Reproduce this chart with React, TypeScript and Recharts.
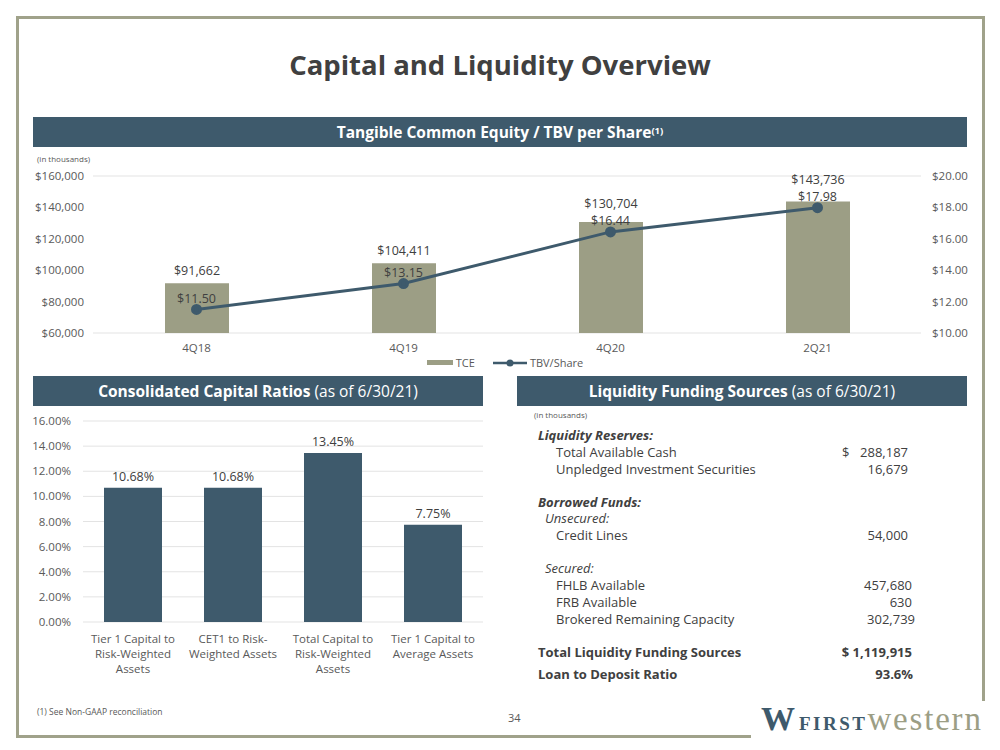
import React from 'react';
import {
  ComposedChart, BarChart, Bar, Line, XAxis, YAxis, CartesianGrid, Legend, LabelList,
} from 'recharts';

// top chart
const quarters = ['4Q18', '4Q19', '4Q20', '2Q21'];
const tce = [91662, 104411, 130704, 143736];
const tbvShare = [11.5, 13.15, 16.44, 17.98];
const tceTicks = [60000, 80000, 100000, 120000, 140000, 160000];
const tbvTicks = [10, 12, 14, 16, 18, 20];

// capital ratios
const ratioNames = [
  ['Tier 1 Capital to', 'Risk-Weighted', 'Assets'],
  ['CET1 to Risk-', 'Weighted Assets'],
  ['Total Capital to', 'Risk-Weighted', 'Assets'],
  ['Tier 1 Capital to', 'Average Assets'],
];
const ratioValues = [10.68, 10.68, 13.45, 7.75];
const ratioTicks = [0, 2, 4, 6, 8, 10, 12, 14, 16];

// liquidity table
const reserveRows = [
  ['Total Available Cash', '288,187'],
  ['Unpledged Investment Securities', '16,679'],
];
const unsecuredRows = [['Credit Lines', '54,000']];
const securedRows = [
  ['FHLB Available', '457,680'],
  ['FRB Available', '630'],
  ['Brokered Remaining Capacity', '302,739'],
];

const NAVY = '#3e5a6c';
const OLIVE = '#9c9e85';
const TXT = '#404040';
const FONT = '"Open Sans", "Noto Sans", sans-serif';

const TCE_MIN = 60000, TCE_MAX = 160000, TBV_MIN = 10, TBV_MAX = 20;

const topData = quarters.map((q, i) => ({ q, tce: tce[i], tbv: tbvShare[i] }));
const ratioData = ratioNames.map((n, i) => ({ name: n.join('|'), value: ratioValues[i] }));

// TCE label sits above the bar, pushed up when the TBV label would collide with it
function TceLabel(props: any) {
  const { x, y, width, height, index } = props;
  const bottom = y + height;
  const plotH = height / ((tce[index] - TCE_MIN) / (TCE_MAX - TCE_MIN));
  const pointY = bottom - ((tbvShare[index] - TBV_MIN) / (TBV_MAX - TBV_MIN)) * plotH;
  const cy = Math.min(y - 13, pointY - 28);
  return (
    <text x={x + width / 2} y={cy + 4.5} textAnchor="middle" fill={TXT} fontSize={12.5} fontFamily={FONT}>
      {'$' + tce[index].toLocaleString('en-US')}
    </text>
  );
}

function TopLegend(props: any) {
  const items = [...(props.payload || [])].sort((a: any, b: any) => (a.type === 'line' ? 1 : 0) - (b.type === 'line' ? 1 : 0));
  return (
    <div style={{ display: 'flex', justifyContent: 'center', alignItems: 'center', gap: 18, fontSize: 11, color: '#595959', fontFamily: FONT, paddingLeft: 10 }}>
      {items.map((it: any) => (
        <span key={it.value} style={{ display: 'flex', alignItems: 'center', gap: 3 }}>
          {it.type === 'line' ? (
            <svg width={34} height={10}>
              <line x1={0} y1={5} x2={34} y2={5} stroke={NAVY} strokeWidth={2.5} />
              <circle cx={17} cy={5} r={3.5} fill={NAVY} />
            </svg>
          ) : (
            <span style={{ display: 'inline-block', width: 26, height: 5, background: OLIVE }} />
          )}
          {it.value}
        </span>
      ))}
    </div>
  );
}

function RatioTick(props: any) {
  const { x, y, payload } = props;
  const lines = String(payload.value).split('|');
  return (
    <text x={x} y={y} textAnchor="middle" fill="#595959" fontSize={11.5} fontFamily={FONT}>
      {lines.map((l, i) => (
        <tspan key={i} x={x} dy={i === 0 ? 13 : 15}>{l}</tspan>
      ))}
    </text>
  );
}

function Header({ left, top, width, bold, rest, sup }: any) {
  return (
    <div style={{
      position: 'absolute', left, top, width, height: 30, background: NAVY, color: '#fff',
      display: 'flex', alignItems: 'center', justifyContent: 'center', fontSize: 15.5, fontFamily: FONT,
    }}>
      <span style={{ fontWeight: 700 }}>{bold}</span>
      {rest && <span style={{ whiteSpace: 'pre' }}>{rest}</span>}
      {sup && <sup style={{ fontSize: 9.5, fontWeight: 700, position: 'relative', top: -2 }}>{sup}</sup>}
    </div>
  );
}

const rowStyle: React.CSSProperties = { position: 'absolute', fontSize: 13, color: TXT, fontFamily: FONT, whiteSpace: 'nowrap', lineHeight: '16px' };

function Row({ y, label, value, indent = 556, right = 908, dollar }: any) {
  return (
    <>
      <div style={{ ...rowStyle, left: indent, top: y }}>{label}</div>
      {dollar && <div style={{ ...rowStyle, left: 842, top: y }}>$</div>}
      <div style={{ ...rowStyle, left: right - 100, width: 100, textAlign: 'right', top: y }}>{value}</div>
    </>
  );
}

export default function App() {
  return (
    <div style={{ position: 'absolute', left: 0, top: 0, width: 1000, height: 750, background: '#fff', fontFamily: FONT, overflow: 'hidden' }}>
      {/* frame */}
      <div style={{ position: 'absolute', left: 16, top: 16, width: 3, height: 722, background: '#a0a28a' }} />
      <div style={{ position: 'absolute', left: 16, top: 16, width: 969, height: 3, background: '#a0a28a' }} />
      <div style={{ position: 'absolute', left: 982, top: 16, width: 3, height: 685, background: '#a0a28a' }} />
      <div style={{ position: 'absolute', left: 16, top: 735, width: 735, height: 3, background: '#a0a28a' }} />

      <div style={{ position: 'absolute', left: 0, width: 1000, top: 46, textAlign: 'center', fontSize: 27.5, fontWeight: 700, color: TXT }}>
        Capital and Liquidity Overview
      </div>

      <Header left={33} top={117} width={934} bold="Tangible Common Equity / TBV per Share" sup="(1)" />
      <div style={{ position: 'absolute', left: 37, top: 153, fontSize: 8, color: '#595959' }}>(in thousands)</div>

      <div style={{ position: 'absolute', left: 0, top: 160 }}>
        <ComposedChart width={1000} height={215} data={topData} margin={{ top: 16, right: 0, bottom: 0, left: 0 }}>
          <CartesianGrid vertical={false} stroke="#e3e3e3" />
          <XAxis dataKey="q" axisLine={false} tickLine={false} height={22} tickMargin={5}
            tick={{ fontSize: 11.5, fill: '#595959', fontFamily: FONT }} />
          <YAxis yAxisId="l" domain={[TCE_MIN, TCE_MAX]} ticks={tceTicks} width={93} axisLine={false} tickLine={false} tickMargin={3}
            tickFormatter={(v: number) => '$' + v.toLocaleString('en-US')}
            tick={{ fontSize: 11.5, fill: '#595959', fontFamily: FONT }} />
          <YAxis yAxisId="r" orientation="right" domain={[TBV_MIN, TBV_MAX]} ticks={tbvTicks} width={79} axisLine={false} tickLine={false} tickMargin={5}
            tickFormatter={(v: number) => '$' + v.toFixed(2)}
            tick={{ fontSize: 11.5, fill: '#595959', fontFamily: FONT }} />
          <Legend verticalAlign="bottom" height={20} content={<TopLegend />} />
          <Bar yAxisId="l" dataKey="tce" name="TCE" fill={OLIVE} barSize={64} isAnimationActive={false} legendType="rect">
            <LabelList dataKey="tce" content={<TceLabel />} />
          </Bar>
          <Line yAxisId="r" dataKey="tbv" name="TBV/Share" stroke={NAVY} strokeWidth={3} legendType="line"
            dot={{ r: 4, fill: NAVY, stroke: NAVY }} isAnimationActive={false}>
            <LabelList dataKey="tbv" position="top" offset={6.5} fill={TXT} fontSize={12.5} fontFamily={FONT}
              formatter={(v: any) => '$' + Number(v).toFixed(2)} />
          </Line>
        </ComposedChart>
      </div>

      <Header left={33} top={376} width={450} bold="Consolidated Capital Ratios" rest=" (as of 6/30/21)" />
      <div style={{ position: 'absolute', left: 0, top: 411 }}>
        <BarChart width={490} height={270} data={ratioData} margin={{ top: 10, right: 7, bottom: 0, left: 0 }}>
          <CartesianGrid vertical={false} stroke="#e3e3e3" />
          <XAxis dataKey="name" axisLine={false} tickLine={false} height={59} interval={0} tick={<RatioTick />} />
          <YAxis domain={[0, 16]} ticks={ratioTicks} width={83} axisLine={false} tickLine={false} tickMargin={6}
            tickFormatter={(v: number) => v.toFixed(2) + '%'}
            tick={{ fontSize: 11.5, fill: '#595959', fontFamily: FONT }} />
          <Bar dataKey="value" fill={NAVY} barSize={58} isAnimationActive={false}>
            <LabelList dataKey="value" position="top" offset={7} fill={TXT} fontSize={12.5} fontFamily={FONT}
              formatter={(v: any) => Number(v).toFixed(2) + '%'} />
          </Bar>
        </BarChart>
      </div>

      <Header left={517} top={376} width={450} bold="Liquidity Funding Sources" rest=" (as of 6/30/21)" />
      <div style={{ position: 'absolute', left: 534, top: 409, fontSize: 8, color: '#595959' }}>(in thousands)</div>

      <div style={{ ...rowStyle, left: 538, top: 427, fontWeight: 700, fontStyle: 'italic' }}>Liquidity Reserves:</div>
      {reserveRows.map((r, i) => (
        <Row key={r[0]} y={444 + i * 17} label={r[0]} value={r[1]} dollar={i === 0} />
      ))}
      <div style={{ ...rowStyle, left: 538, top: 494, fontWeight: 700, fontStyle: 'italic' }}>Borrowed Funds:</div>
      <div style={{ ...rowStyle, left: 545, top: 510, fontStyle: 'italic' }}>Unsecured:</div>
      {unsecuredRows.map((r) => (
        <Row key={r[0]} y={527} label={r[0]} value={r[1]} />
      ))}
      <div style={{ ...rowStyle, left: 545, top: 560, fontStyle: 'italic' }}>Secured:</div>
      {securedRows.map((r, i) => (
        <Row key={r[0]} y={577 + i * 17} label={r[0]} value={r[1]} right={[912, 912, 915][i]} />
      ))}
      <div style={{ ...rowStyle, left: 538, top: 644, fontWeight: 700 }}>Total Liquidity Funding Sources</div>
      <div style={{ ...rowStyle, left: 812, width: 100, textAlign: 'right', top: 644, fontWeight: 700 }}>$ 1,119,915</div>
      <div style={{ ...rowStyle, left: 538, top: 666, fontWeight: 700 }}>Loan to Deposit Ratio</div>
      <div style={{ ...rowStyle, left: 813, width: 100, textAlign: 'right', top: 666, fontWeight: 700 }}>93.6%</div>

      <div style={{ position: 'absolute', left: 37, top: 706, fontSize: 8.5, color: '#595959' }}>(1) See Non-GAAP reconciliation</div>
      <div style={{ position: 'absolute', left: 508, top: 710, fontSize: 11, color: '#595959' }}>34</div>

      {/* logo */}
      <div style={{ position: 'absolute', left: 761, top: 700, display: 'flex', alignItems: 'baseline', fontFamily: '"Liberation Serif", "DejaVu Serif", serif', whiteSpace: 'nowrap' }}>
        <span style={{ fontSize: 34, fontWeight: 700, color: NAVY, marginRight: 4 }}>W</span>
        <span style={{ fontSize: 19, fontWeight: 700, color: NAVY, letterSpacing: 2.5 }}>FIRST</span>
        <span style={{ fontSize: 33, color: OLIVE, letterSpacing: 1.8 }}>western</span>
      </div>
    </div>
  );
}
